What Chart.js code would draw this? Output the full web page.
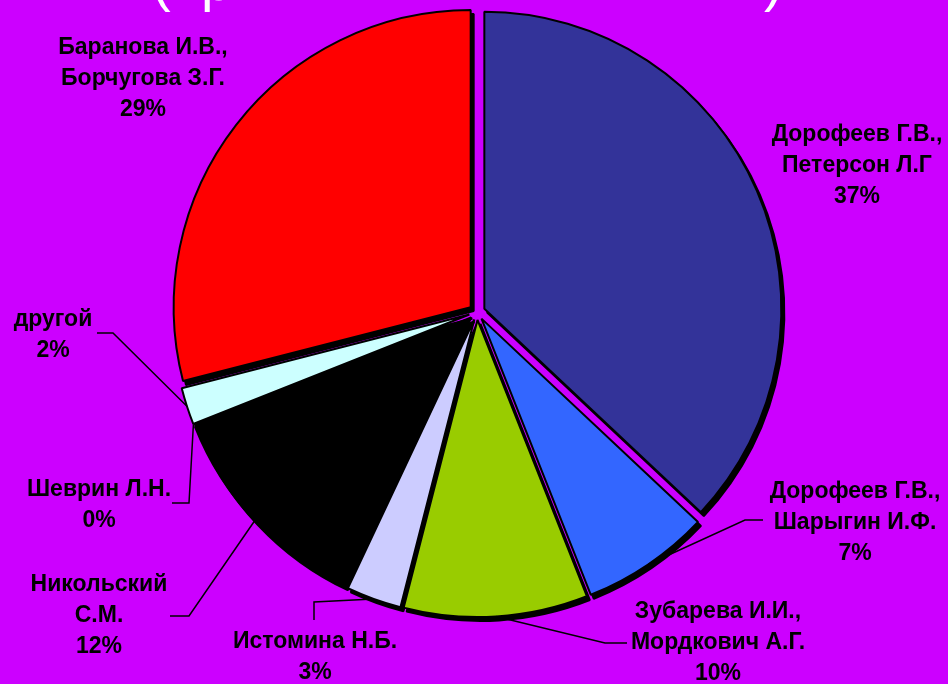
<!DOCTYPE html>
<html>
<head>
<meta charset="utf-8">
<script src="https://cdn.jsdelivr.net/npm/chart.js@4/dist/chart.umd.min.js"></script>
<style>
  html, body { margin: 0; padding: 0; background: #cc00ff; overflow: hidden; }
  canvas { display: block; }
</style>
</head>
<body>
<canvas id="pie" width="948" height="684"></canvas>
<script>
// Authors of the textbooks, one array of text lines per slice
const categories = [
  ["Дорофеев Г.В.,", "Петерсон Л.Г"],
  ["Дорофеев Г.В.,", "Шарыгин И.Ф."],
  ["Зубарева И.И.,", "Мордкович А.Г."],
  ["Истомина Н.Б."],
  ["Никольский", "С.М."],
  ["Шеврин Л.Н."],
  ["другой"],
  ["Баранова И.В.,", "Борчугова З.Г."]
];
// Share of each author, percent
const shares = [37, 7, 10, 3, 12, 0, 2, 29];
const sliceColors = ["#333399", "#3366ff", "#99cc00", "#ccccff", "#000000", "#ffff99", "#ccffff", "#ff0000"];

// Label layout: centre of first text line, and bends of the leader line
const labelPos = [[857, 135], [855, 492], [718, 612], [315, 642], [99, 585], [99, 490], [53, 320], [143, 48]];
const leaders = [
  null,
  [[763, 520], [745, 520]],
  [[627, 643], [605, 643]],
  [[314, 620], [314, 602]],
  [[170, 616], [189, 616]],
  [[172, 503], [189, 503]],
  [[97, 333], [113, 333]],
  null
];

const EXPLODE = 8;   // every slice is pulled out by this many px

// draws the library's arc elements, each moved out along its middle angle
function drawSlices(chart, dx, dy, override) {
  const ctx = chart.ctx;
  chart.getDatasetMeta(0).data.forEach((arc) => {
    const mid = (arc.startAngle + arc.endAngle) / 2;
    const fake = Object.create(arc);
    fake.options = Object.assign({}, arc.options, { offset: 0 }, override);
    ctx.save();
    ctx.translate(dx + Math.cos(mid) * EXPLODE, dy + Math.sin(mid) * EXPLODE);
    arc.draw.call(fake, ctx);
    ctx.restore();
  });
}

const explodedPie = {
  id: "explodedPie",
  beforeDatasetsDraw(chart) {
    drawSlices(chart, 3, 4, { backgroundColor: "#000", borderColor: "#000" }); // shadow
    drawSlices(chart, 0, 0, {});
    return false;
  },
  afterDraw(chart) {
    const ctx = chart.ctx;
    const arcs = chart.getDatasetMeta(0).data;
    ctx.save();
    ctx.strokeStyle = "#000";
    ctx.lineWidth = 1.5;
    arcs.forEach((arc, i) => {
      if (!leaders[i]) return;
      const mid = (arc.startAngle + arc.endAngle) / 2;
      const r = arc.outerRadius + EXPLODE;
      ctx.beginPath();
      leaders[i].forEach(([x, y], k) => (k ? ctx.lineTo(x, y) : ctx.moveTo(x, y)));
      ctx.lineTo(arc.x + Math.cos(mid) * r, arc.y + Math.sin(mid) * r);
      ctx.stroke();
    });
    ctx.fillStyle = "#000";
    ctx.font = "bold 23px 'Liberation Sans', Arial, sans-serif";
    ctx.textAlign = "center";
    ctx.textBaseline = "middle";
    categories.forEach((lines, i) => {
      const [x, y] = labelPos[i];
      lines.concat(shares[i] + "%").forEach((t, k) => ctx.fillText(t, x, y + k * 31));
    });

    // title sits mostly above the picture, only its lower part shows
    ctx.fillStyle = "#fff";
    ctx.font = "56px 'Liberation Sans', Arial, sans-serif";
    ctx.textAlign = "left";
    ctx.textBaseline = "alphabetic";
    ctx.fillText("(пр", 152, 0);
    ctx.fillText(")", 764, 0);
    ctx.restore();
  }
};

new Chart(document.getElementById("pie"), {
  type: "pie",
  data: {
    labels: categories,
    datasets: [{
      data: shares,
      backgroundColor: sliceColors,
      borderColor: "#000",
      borderWidth: 2,
      hoverOffset: 0,
      radius: 297
    }]
  },
  options: {
    responsive: false,
    animation: false,
    events: [],
    layout: { padding: { top: 0, bottom: 60, left: 6, right: 0 } },
    plugins: {
      legend: { display: false },
      tooltip: { enabled: false }
    }
  },
  plugins: [explodedPie]
});
</script>
</body>
</html>
